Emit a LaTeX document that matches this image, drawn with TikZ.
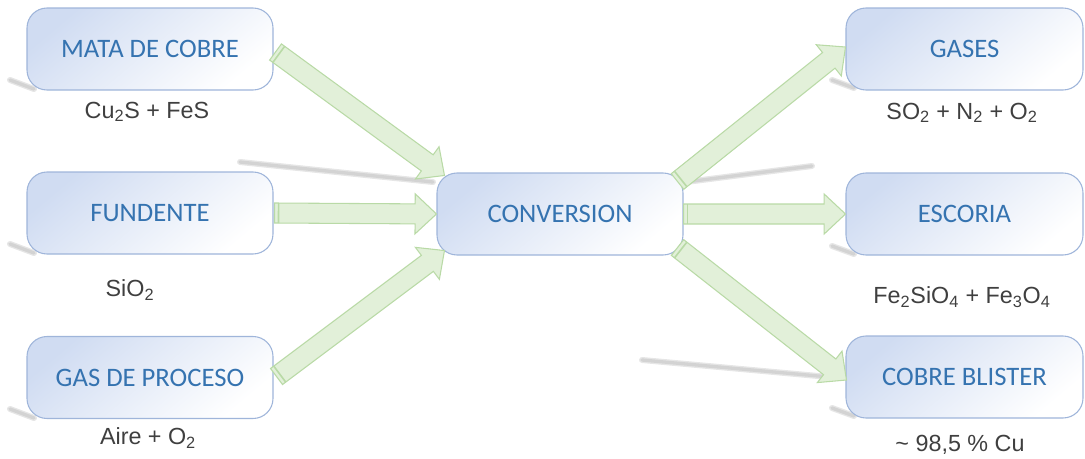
\documentclass[tikz,border=0pt]{standalone}
\usepackage{fontspec}
\setmainfont{Liberation Sans}
\newfontfamily\boxfont{Carlito}
\usetikzlibrary{calc}
\definecolor{boxtop}{HTML}{D0DCF2}
\definecolor{boxline}{HTML}{9FB5DA}
\definecolor{boxtext}{HTML}{3573B0}
\definecolor{arrfill}{HTML}{E2F0D9}
\definecolor{arrline}{HTML}{B9DAA6}
\definecolor{labtext}{HTML}{3F3F3F}
\definecolor{shadowc}{HTML}{9A9A9A}
\tikzset{
 procbox/.style={rounded corners=15pt, minimum width=184.5pt, minimum height=61.5pt,
   draw=boxline, line width=0.8pt, shading=axis, top color=boxtop, bottom color=white,
   shading angle=40, font=\boxfont\fontsize{20}{23}\selectfont, text=boxtext, inner sep=0pt},
 chem/.style={font=\fontsize{17.5}{20}\selectfont, text=labtext, inner sep=0pt},
 blockarrow/.style={fill=arrfill, draw=arrline, line width=0.8pt, line join=miter},
 shadowline/.style={draw=shadowc, line cap=round, opacity=0.25},
}
\newcommand\blockarr[2]{%
 \path[blockarrow] let \p1=(#1), \p2=(#2), \n1={atan2(\y2-\y1,\x2-\x1)},
   \n2={veclen(\x2-\x1,\y2-\y1)-16pt} in
  ($(\p1)+(\n1+90:7.5pt)$) -- ($(\p1)+(\n1:\n2)+(\n1+90:7.5pt)$)
  -- ($(\p1)+(\n1:\n2)+(\n1+90:15pt)$) -- (\p2)
  -- ($(\p1)+(\n1:\n2)+(\n1-90:15pt)$) -- ($(\p1)+(\n1:\n2)+(\n1-90:7.5pt)$)
  -- ($(\p1)+(\n1-90:7.5pt)$) -- cycle;
 \draw[arrline, line width=1.2pt] let \p1=(#1), \p2=(#2), \n1={atan2(\y2-\y1,\x2-\x1)} in
  ($(\p1)+(\n1:3pt)+(\n1+90:7.5pt)$) -- ($(\p1)+(\n1:3pt)+(\n1-90:7.5pt)$);
}
\newcommand\softline[2]{%
 \draw[shadowline, line width=4.5pt] #1 -- #2;
 \draw[shadowline, line width=2.5pt] #1 -- #2;
}
\begin{document}
\begin{tikzpicture}[x=0.75pt,y=-0.75pt]
\useasboundingbox (0,0) rectangle (1085,458);
% shadow streaks
\softline{(240,162)}{(433,182)}
\softline{(686,182)}{(812,166)}
\softline{(642,360)}{(840,378)}
\softline{(10,80)}{(34,89)}
\softline{(10,244)}{(34,253)}
\softline{(10,409)}{(34,418)}
\softline{(832,80)}{(854,88)}
\softline{(832,246)}{(854,254)}
\softline{(832,408)}{(854,416)}
% boxes
\node[procbox] (mata) at (150,49) {MATA DE COBRE};
\node[procbox] (fund) at (150,213) {FUNDENTE};
\node[procbox] (gas) at (150,377.5) {GAS DE PROCESO};
\node[procbox] (conv) at (560,214) {CONVERSION};
\node[procbox, minimum width=177.75pt] (gases) at (964.5,49) {GASES};
\node[procbox, minimum width=177.75pt] (esc) at (964.5,214) {ESCORIA};
\node[procbox, minimum width=177.75pt] (blis) at (964.5,377) {COBRE BLISTER};
% labels
\node[chem] (l1) at (147,112) {Cu\textsubscript{2}S + FeS};
\node[chem] (l2) at (130,290) {SiO\textsubscript{2}};
\node[chem] (l3) at (148,438) {Aire + O\textsubscript{2}};
\node[chem] (r1) at (962,113) {SO\textsubscript{2} + N\textsubscript{2} + O\textsubscript{2}};
\node[chem] (r2) at (962,297) {Fe\textsubscript{2}SiO\textsubscript{4} + Fe\textsubscript{3}O\textsubscript{4}};
\node[chem] (r3) at (960,445) {\textasciitilde{} 98,5 \% Cu};
% arrow end points
\coordinate (a1s) at ($(mata.east)+(2,3)$);
\coordinate (a1e) at ($(conv.north west)+(8,3)$);
\coordinate (a2s) at ($(fund.east)+(1,0)$);
\coordinate (a2e) at (conv.west);
\coordinate (a3s) at ($(gas.east)+(3,-1)$);
\coordinate (a3e) at ($(conv.south west)+(8,-5)$);
\coordinate (a4s) at ($(conv.north east)+(-6,9)$);
\coordinate (a4e) at ($(gases.west)+(0,-2)$);
\coordinate (a5s) at (conv.east);
\coordinate (a5e) at (esc.west);
\coordinate (a6s) at ($(conv.south east)+(-6,-8)$);
\coordinate (a6e) at ($(blis.west)+(1,3)$);
\blockarr{a1s}{a1e}
\blockarr{a2s}{a2e}
\blockarr{a3s}{a3e}
\blockarr{a4s}{a4e}
\blockarr{a5s}{a5e}
\blockarr{a6s}{a6e}
\end{tikzpicture}
\end{document}
